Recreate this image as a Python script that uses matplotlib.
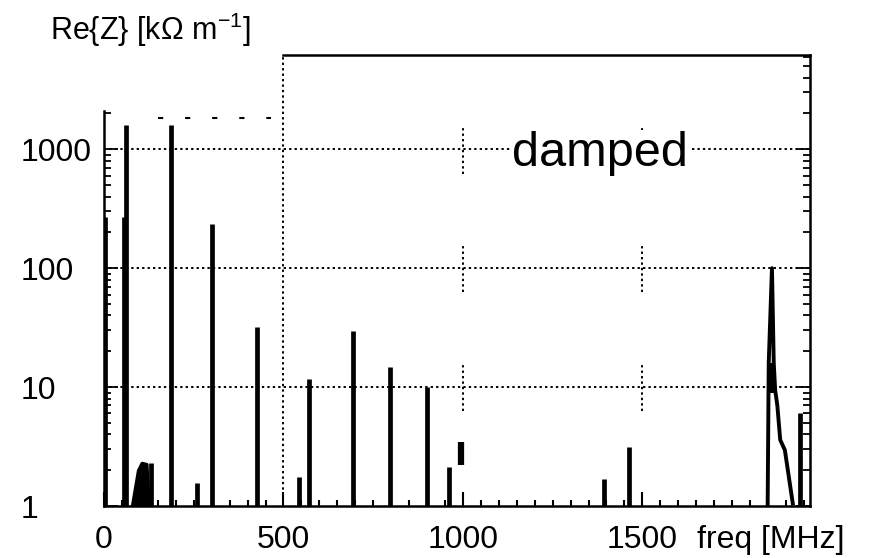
import matplotlib
matplotlib.use("Agg")
import matplotlib.pyplot as plt
import numpy as np
from matplotlib.ticker import FixedLocator, MultipleLocator, LogLocator, NullFormatter

plt.rcParams["font.family"] = ["Liberation Sans", "DejaVu Sans"]
plt.rcParams["mathtext.default"] = "regular"

# narrow resonances: frequency [MHz] and peak Re{Z} [kOhm/m]
spike_freq = [4, 55, 62, 131, 187, 260, 301, 426, 543, 571, 694, 797, 901, 961, 1393, 1462, 1940]
spike_peak = [270, 270, 1600, 2.3, 1600, 1.56, 235, 32, 1.75, 11.7, 29.6, 14.7, 10, 2.13, 1.69, 3.13, 6.0]

# low broad bump near 110 MHz
hump_freq = [78, 95, 105, 118, 124]
hump_val = [1.0, 2.0, 2.3, 2.25, 1.0]

# damped resonance near 1860 MHz with its tail
res_freq = [1849, 1852, 1861, 1866, 1870, 1876, 1884, 1897, 1919]
res_val = [1.0, 16, 100, 16, 9.4, 7.0, 3.6, 2.95, 1.05]

# short thick segments (stray piece near 1 GHz, blob on the damped peak)
seg_freq = [994, 1858]
seg_lo = [2.2, 9.0]
seg_hi = [3.45, 16.0]

x_ticks = [0, 500, 1000, 1500]
y_ticks = [1, 10, 100, 1000]
y_labels = ["1", "10", "100", "1000"]

fig = plt.figure(figsize=(8.7, 5.58), dpi=100)
ax = fig.add_axes([104 / 870, 1 - 506 / 558, (810 - 104) / 870, (506 - 55) / 558])
ax.set_yscale("log")
ax.set_xlim(0, 1967)
ax.set_ylim(1, 6200)

ink = "black"
dot = (0, (1.2, 1.6))

# grid: dotted decades, long line at 500, short crosses at 1000/1500
for yv in [10, 100, 1000]:
    ax.axhline(yv, color=ink, linestyle=dot, linewidth=1.4, zorder=1)
ax.axvline(500, color=ink, linestyle=dot, linewidth=1.4, zorder=1)
for xv in [1000, 1500]:
    for yv in [10, 100, 1000]:
        ax.plot([xv, xv], [yv / 1.6, yv * 1.6], color=ink,
                linestyle=dot, linewidth=1.4, zorder=1)

# data
ax.vlines(spike_freq, 1, spike_peak, color=ink, linewidth=3.4, zorder=3)
ax.fill_between(hump_freq, 1, hump_val, color=ink, linewidth=2.5, zorder=3)
ax.plot(res_freq, res_val, color=ink, linewidth=2.8, zorder=3, solid_joinstyle="round")
ax.vlines(seg_freq, seg_lo, seg_hi, color=ink, linewidth=4.5, zorder=3)

# broken dashed top edge on the left
ax.plot([150, 465], [1820, 1820], color=ink, linewidth=1.5,
        linestyle=(0, (2.5, 10.5)), zorder=2)

# axes frame
for s in ax.spines.values():
    s.set_linewidth(1.8)
    s.set_color(ink)
ax.spines["top"].set_bounds(500, 1967)
ax.spines["left"].set_bounds(1, 2100)

ax.xaxis.set_major_locator(FixedLocator(x_ticks))
ax.xaxis.set_minor_locator(MultipleLocator(50))
ax.set_xticklabels([str(v) for v in x_ticks], fontsize=23)
ax.tick_params(axis="x", which="major", direction="in", length=10, width=1.5, pad=14)
ax.tick_params(axis="x", which="minor", direction="in", length=4.5, width=1.5)

# left axis ticks only up to where the left frame ends
left_minor = [m * 10 ** d for d in range(0, 4) for m in range(2, 10) if m * 10 ** d <= 2000]
ax.yaxis.set_major_locator(FixedLocator(y_ticks))
ax.yaxis.set_minor_locator(FixedLocator(left_minor))
ax.yaxis.set_minor_formatter(NullFormatter())
ax.set_yticklabels(y_labels, fontsize=23)
ax.tick_params(axis="y", which="both", direction="in", width=1.3)
ax.tick_params(axis="y", which="major", length=10, pad=60)
ax.tick_params(axis="y", which="minor", length=5)
for lab in ax.get_yticklabels():
    lab.set_horizontalalignment("left")

# right axis ticks over the full height
axr = ax.twinx()
axr.set_yscale("log")
axr.set_ylim(ax.get_ylim())
axr.yaxis.set_major_locator(FixedLocator(y_ticks))
axr.yaxis.set_minor_locator(LogLocator(base=10, subs=np.arange(2, 10)))
axr.yaxis.set_major_formatter(NullFormatter())
axr.yaxis.set_minor_formatter(NullFormatter())
axr.tick_params(axis="y", which="both", direction="in", width=1.3)
axr.tick_params(axis="y", which="major", length=10)
axr.tick_params(axis="y", which="minor", length=5)
for s in axr.spines.values():
    s.set_visible(False)

ax.text(0.945, -0.075, "freq [MHz]", transform=ax.transAxes, fontsize=23,
        ha="center", va="center")
fig.text(150 / 870, 1 - 30 / 558, "Re{Z} [k\u03a9 m$^{-1}$]", fontsize=22,
         ha="center", va="center")
ax.text(1382, 720, "damped", fontsize=35, ha="center", va="baseline", zorder=4,
        bbox=dict(facecolor="white", edgecolor="none", pad=1))

fig.savefig("out.png", dpi=100)
